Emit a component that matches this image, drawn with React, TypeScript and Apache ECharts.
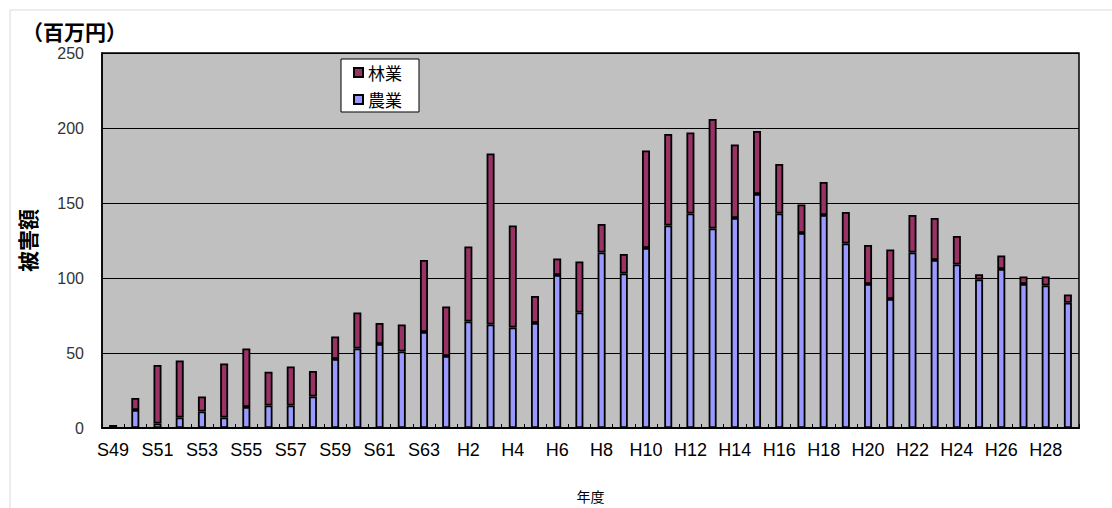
import React, { useEffect, useRef } from "react";
import * as echarts from "echarts";

const categories = [
  "S49", "S50", "S51", "S52", "S53", "S54", "S55", "S56", "S57", "S58",
  "S59", "S60", "S61", "S62", "S63",
  "H1", "H2", "H3", "H4", "H5", "H6", "H7", "H8", "H9", "H10",
  "H11", "H12", "H13", "H14", "H15", "H16", "H17", "H18", "H19", "H20",
  "H21", "H22", "H23", "H24", "H25", "H26", "H27", "H28", "H29",
];

const agriculture = [
  0, 12, 3, 7, 11, 7, 14, 15, 15, 21,
  46, 53, 56, 51, 64,
  48, 71, 69, 67, 70, 102, 77, 117, 103, 120,
  135, 143, 133, 140, 156, 143, 130, 142, 123, 96,
  86, 117, 112, 109, 99, 106, 96, 95, 83.5,
];

const forestry = [
  2, 8, 39, 38, 10, 36, 39, 22.5, 26, 17,
  15, 24, 14, 18, 48,
  33, 50, 114, 68, 18, 11, 34, 19, 13, 65,
  61, 54, 73, 49, 42, 33, 19, 22, 21, 26,
  33, 25, 28, 19, 3.5, 9, 5, 6, 5.5,
];

const yTicks = [0, 50, 100, 150, 200, 250];

const FONT = "'Liberation Sans', 'Noto Sans CJK JP', sans-serif";
const JP = "'Noto Sans CJK JP', sans-serif";

export default function App() {
  const ref = useRef<HTMLDivElement>(null);

  useEffect(() => {
    document.body.style.margin = "0";
    if (!ref.current) return;
    const chart = echarts.init(ref.current, null, { renderer: "svg" });
    chart.setOption({
      animation: false,
      backgroundColor: "#ffffff",
      textStyle: { fontFamily: FONT },
      grid: {
        left: 102,
        top: 53,
        right: 33,
        bottom: 73,
        show: true,
        backgroundColor: "#C0C0C0",
        borderColor: "#000000",
        borderWidth: 1.5,
      },
      legend: {
        data: ["林業", "農業"],
        orient: "vertical",
        left: 341,
        top: 59,
        backgroundColor: "#ffffff",
        borderColor: "#000000",
        borderWidth: 1,
        padding: [5, 17, 4, 12],
        itemGap: 10,
        itemWidth: 9,
        itemHeight: 9,
        icon: "rect",
        textStyle: { fontFamily: JP, fontSize: 17, color: "#000" },
      },
      xAxis: {
        type: "category",
        data: categories,
        name: "年度",
        nameLocation: "middle",
        nameGap: 61,
        nameTextStyle: { fontFamily: JP, fontSize: 14, color: "#000" },
        axisLine: { show: true, lineStyle: { color: "#000", width: 2 } },
        axisTick: { show: true, inside: true, length: 4, interval: 0, lineStyle: { color: "#000" } },
        axisLabel: { interval: 1, fontSize: 18, color: "#000", margin: 13, fontFamily: FONT },
        splitLine: { show: false },
      },
      yAxis: {
        type: "value",
        min: yTicks[0],
        max: yTicks[yTicks.length - 1],
        interval: 50,
        name: "被害額",
        nameLocation: "middle",
        nameRotate: 90,
        nameGap: 65,
        nameTextStyle: { fontFamily: JP, fontSize: 21, fontWeight: "bold", color: "#000" },
        axisLine: { show: true, lineStyle: { color: "#000", width: 1.5 } },
        axisTick: { show: false },
        axisLabel: { fontSize: 16, color: "#333", margin: 18, fontFamily: FONT },
        splitLine: { show: true, lineStyle: { color: "#000", width: 1 } },
      },
      series: [
        {
          name: "農業",
          type: "bar",
          stack: "total",
          data: agriculture,
          barWidth: 8,
          itemStyle: { color: "#9999FF", borderColor: "#000", borderWidth: 1.8 },
        },
        {
          name: "林業",
          type: "bar",
          stack: "total",
          data: forestry,
          barWidth: 8,
          itemStyle: { color: "#993366", borderColor: "#000", borderWidth: 1.8 },
        },
      ],
      graphic: [
        {
          type: "rect",
          shape: { x: 10, y: 10, width: 1120, height: 520 },
          style: { fill: "none", stroke: "#d9d9d9", lineWidth: 1 },
          silent: true,
        },
        {
          type: "text",
          left: 22,
          top: 20,
          style: {
            text: "（百万円）",
            fontFamily: JP,
            fontSize: 21,
            fontWeight: "bold",
            fill: "#000",
          },
        },
      ],
    });
    return () => chart.dispose();
  }, []);

  return <div ref={ref} style={{ width: 1112, height: 508 }} />;
}
